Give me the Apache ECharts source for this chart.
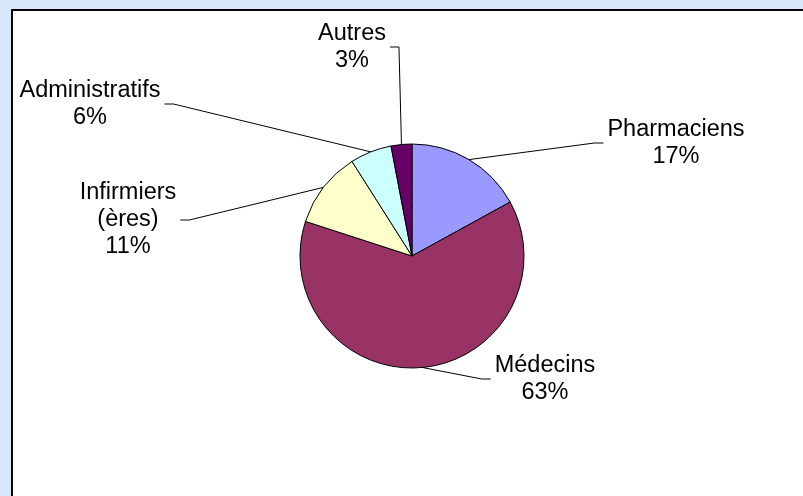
<!DOCTYPE html>
<html>
<head>
<meta charset="utf-8">
<title>Répartition</title>
<script src="https://cdn.jsdelivr.net/npm/echarts@6/dist/echarts.min.js"></script>
<style>
    html, body { margin: 0; padding: 0; width: 803px; height: 496px; overflow: hidden; background: #d9e7fa; }
    #frame {
        position: absolute; left: 11px; top: 9px; width: 810px; height: 500px;
        background: #fff; border-left: 2px solid #000; border-top: 2px solid #000;
    }
    #chart { position: absolute; left: 0; top: 0; width: 803px; height: 496px; }
</style>
</head>
<body>
<div id="frame"></div>
<div id="chart"></div>
<script>
// données
const categories = ['Pharmaciens', 'Médecins', 'Infirmiers\n(ères)', 'Administratifs', 'Autres'];
const shares = [17, 63, 11, 6, 3];
const sliceColors = ['#9999ff', '#993366', '#ffffcc', '#ccffff', '#660066'];
// centre des étiquettes (px)
const labelPos = [[676, 143], [545, 379], [128, 220], [90, 104], [352, 47]];

const pieCenter = [412, 256];

const chart = echarts.init(document.getElementById('chart'));

chart.setOption({
    animation: false,
    series: [{
        type: 'pie',
        center: pieCenter,
        radius: 112,
        startAngle: 90,
        clockwise: true,
        avoidLabelOverlap: false,
        data: categories.map((name, i) => ({
            name: name,
            value: shares[i],
            itemStyle: { color: sliceColors[i] }
        })),
        itemStyle: { borderColor: '#000', borderWidth: 1 },
        label: {
            show: true,
            position: 'outside',
            color: '#000',
            fontFamily: 'Liberation Sans, Arial, sans-serif',
            fontSize: 23.5,
            lineHeight: 27,
            align: 'center',
            formatter: p => p.name + '\n' + Math.round(p.percent) + '%'
        },
        labelLine: {
            show: true,
            lineStyle: { color: '#000', width: 1 }
        },
        labelLayout: function (params) {
            const [x, y] = labelPos[params.dataIndex];
            const w = params.labelRect.width;
            const p0 = params.labelLinePoints ? params.labelLinePoints[0] : [x, y];
            const right = x > pieCenter[0];
            const edge = right ? x - w / 2 - 4 : x + w / 2 + 4;
            const hook = right ? edge - 9 : edge + 9;
            return {
                x: x,
                y: y,
                align: 'center',
                verticalAlign: 'middle',
                labelLinePoints: [p0, [hook, y], [edge, y]]
            };
        },
        emphasis: { disabled: true }
    }]
});
</script>
</body>
</html>
